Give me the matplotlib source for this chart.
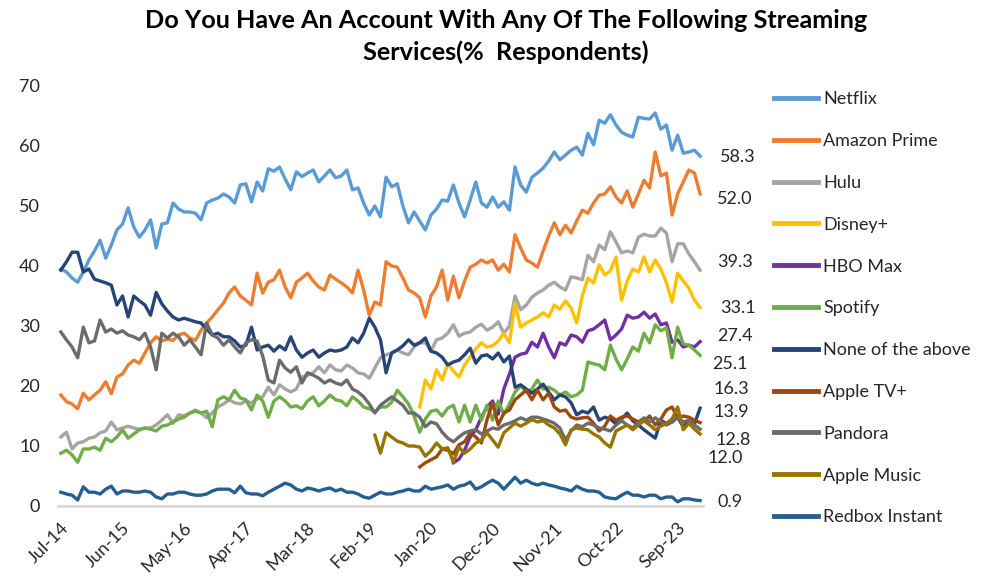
import numpy as np
import pandas as pd
import matplotlib
matplotlib.use("Agg")
import matplotlib.pyplot as plt
import matplotlib.transforms as mtransforms
from matplotlib.lines import Line2D

plt.rcParams['font.family'] = ['Lato', 'DejaVu Sans']

# monthly survey waves, Jul-2014 .. Jan-2024
months = pd.date_range("2014-07-01", "2024-01-01", freq="MS")
tick_step = 11

netflix = [39.5, 39, 38, 37.3, 39, 41, 42.5, 44.3, 41.3, 43.5,
           46, 47, 49.7, 46.5, 44.8, 46, 47.7, 43, 47, 47.2,
           50.5, 49.5, 49, 49, 48.8, 47.7, 50.5, 51, 51.3, 52,
           51.5, 50.5, 53.5, 53.7, 50.7, 54, 52.5, 56.2, 55.8, 56.5,
           54.5, 52.7, 55.7, 54.9, 55.5, 56, 54, 55, 56, 54.7,
           55, 56, 52.7, 53, 50.5, 48.5, 50, 48.2, 54.8, 53.2,
           53.7, 50, 47.2, 49, 47.5, 46, 48.5, 49.5, 51, 50.8,
           53.5, 50.5, 48.2, 51, 54, 50.5, 49.8, 51.5, 49.8, 50.7,
           49.3, 56.5, 53.5, 52.3, 54.8, 55.5, 56.3, 57.5, 59, 57.7,
           58.5, 59.3, 59.8, 58.5, 62.1, 60.2, 64.3, 63.8, 65.2, 63.5,
           62.3, 61.8, 61.5, 64.8, 64.6, 64.5, 65.5, 62.8, 63.5, 59.3,
           61.8, 58.8, 59, 59.3, 58.3]

amazon = [18.5, 17.4, 17, 16.2, 18.8, 17.7, 18.5, 19.3, 20.7, 18.7,
          21.5, 22, 23.5, 24.3, 23.8, 25.5, 27.2, 28.2, 27.5, 27.8,
          27.6, 28.5, 28.8, 28, 27.6, 29.3, 30.5, 31.5, 32.7, 33.8,
          35.5, 36.5, 35, 34.3, 33.5, 38.8, 35.5, 37.3, 37.7, 39.3,
          36.5, 34.7, 37.3, 38, 38.8, 37.5, 36.5, 36, 38.5, 37.8,
          37.2, 36.5, 35.5, 39.3, 36, 31.8, 34, 33.5, 40.7, 40,
          39.8, 38, 36, 35.5, 34.7, 31.5, 35, 36.5, 39.3, 34.3,
          38.3, 34.7, 37.5, 39.8, 40.3, 41, 40.5, 41, 39.3, 40.3,
          39, 45.2, 43, 41, 40.5, 39.8, 42.5, 45, 47.2, 45.2,
          46.8, 45.5, 47.5, 49.3, 48.8, 50.5, 51.8, 52, 53.2, 51.5,
          50.5, 52.5, 49.8, 52, 54.3, 53, 59, 55, 55.5, 48.5,
          52, 54, 56, 55.5, 52.0]

hulu = [11.5, 12.3, 9.5, 10.5, 10.7, 11.3, 11.5, 12.2, 12.5, 14,
        12.7, 13, 13.3, 13, 12.8, 13, 13, 13.5, 14.3, 15.2,
        13.8, 15.2, 15, 15.5, 16, 15.5, 14.7, 15.5, 16.5, 17,
        17.7, 17.2, 17, 17.5, 17.2, 17.8, 18.2, 19.8, 18.5, 20.2,
        19.5, 19, 19.5, 21.5, 21.8, 22.2, 23.2, 22.2, 23.5, 22.7,
        22.5, 23.5, 23, 22.2, 22, 21.3, 23, 24.7, 25.2, 25.5,
        26, 25.5, 25.2, 26.5, 27.2, 27.2, 25.8, 27.7, 28, 28.8,
        30.2, 28.3, 28.8, 29, 29.8, 30.3, 29.3, 29.8, 30.7, 28.8,
        30, 35, 32.7, 33.5, 34.8, 35.5, 36, 36.8, 37.3, 36.5,
        36, 38.2, 38, 37.7, 41.8, 40.7, 43.5, 42.7, 45.7, 44,
        42.2, 42.5, 42.2, 44.8, 45.3, 45, 45, 46.3, 45.5, 40.7,
        43.7, 43.7, 42, 40.7, 39.3]

disney = [16.5, 21, 19.5, 22.7, 21, 23.7, 22.5, 21.5, 23.5, 24.8,
          26.2, 27.2, 26.5, 26.7, 27.5, 28.8, 27.2, 33.8, 29.8, 30.5,
          31, 31.5, 32.2, 31.5, 33.5, 32.8, 34.2, 33, 30.5, 35,
          38, 37.2, 40.2, 38.5, 39.2, 41.5, 34.3, 37.5, 39.5, 39,
          41.5, 39, 41, 39.5, 37.2, 34, 38.8, 37.5, 36.3, 34.3,
          33.1]

hbo_max = [7.2, 7.8, 9.3, 11.5, 12.7, 14.8, 16.5, 17.5, 15.3, 19.5,
           22, 24.8, 25.3, 25.5, 27.3, 26.5, 28.8, 26.5, 24.7, 27.2,
           26.8, 28.5, 28.2, 27.3, 29.2, 29.5, 30.2, 31, 27.7, 28.5,
           29.5, 31.8, 31.3, 31.5, 32.3, 31.3, 32, 30.2, 30.5, 27.3,
           27.7, 26.5, 26.8, 26.5, 27.4]

spotify = [8.8, 9.3, 8.5, 7.3, 9.5, 9.5, 9.8, 9.3, 11.3, 10.7,
           11.5, 12.7, 11.3, 12, 12.7, 13, 12.8, 12.5, 13.3, 13.5,
           14, 14.5, 14.8, 15.5, 15.8, 15.5, 15.8, 13.2, 17.7, 18.2,
           17.7, 19.3, 18, 17.7, 16, 18.5, 17.5, 14.8, 17.5, 18.2,
           17.5, 16.5, 16.7, 16.2, 17.5, 18.2, 16.7, 17.5, 18.5, 17.7,
           17.5, 16.7, 18.2, 17.5, 16.5, 16.2, 15.7, 16.5, 16.5, 17.3,
           19.3, 18.2, 17, 15, 12.3, 14.5, 15.8, 16, 15, 16.3,
           16.8, 14, 16.8, 14, 16.8, 14.3, 16.8, 14.3, 17.5, 15.3,
           17, 19, 20, 19, 19.5, 21, 19.5, 19.8, 19.3, 18.5,
           19, 18.2, 18.5, 19.3, 24, 23.7, 23.5, 22.7, 26.8, 24.5,
           22.7, 24.5, 26.5, 25.8, 28.8, 27.2, 30.2, 29.2, 29.7, 24.7,
           29.8, 27, 26.8, 26, 25.1]

none_above = [39.3, 40.7, 42.3, 42.3, 39, 39.5, 37.8, 37.5, 37.2, 36.8,
              33.5, 35, 31.5, 35, 34.2, 33.5, 31.8, 35.6, 33.7, 32.5,
              31.5, 31, 31.3, 31, 30.7, 30.5, 29.5, 28.5, 28.8, 28.2,
              28.2, 27.5, 26.5, 26.8, 29.8, 26, 26.5, 26.8, 25.8, 26.7,
              26, 28.2, 26, 24.8, 25.5, 26, 24.8, 25.5, 26, 25.8,
              26, 26.5, 28, 27.2, 28.8, 31.3, 29.8, 27.7, 22.2, 25.5,
              26, 26.7, 27.7, 26.8, 27.2, 28, 25.8, 25.5, 24.8, 23.5,
              24, 24.3, 25.2, 26.3, 23.8, 25, 25.2, 24.5, 25.5, 24,
              25, 19.8, 20.2, 19.5, 18.8, 19.5, 20.3, 19, 17.7, 18.5,
              18.2, 17.2, 15.2, 15.8, 15.5, 16.5, 14.3, 14.8, 14.5, 13.7,
              14.5, 15.5, 14.2, 13.5, 12.7, 12, 11.3, 14.3, 13.7, 14,
              14.8, 13.2, 14.2, 13.7, 16.3]

apple_tv = [6.5, 7.2, 7.7, 8.2, 9.5, 9.3, 8.7, 10.2, 10.7, 12.2,
            11.5, 10.5, 14.4, 17.2, 13.5, 15.5, 16, 17.7, 18.5, 19.3,
            17.7, 19.3, 17.7, 18.8, 16.5, 15.8, 16, 14.8, 14.5, 14.7,
            14.8, 13.8, 12.5, 13.3, 15, 14.3, 14.8, 15, 14.5, 14,
            14.2, 15, 13.5, 14.5, 16, 16.5, 14.7, 15, 14.8, 14.3,
            13.9]

pandora = [29, 27.7, 26.5, 24.7, 29.8, 27.2, 27.5, 31, 29, 29.5,
           28.8, 29.2, 28.5, 28.2, 27.7, 28.8, 26.5, 22.7, 28.8, 28,
           28.8, 28.2, 26.8, 27.7, 26.5, 25.2, 30.5, 28.5, 28, 26.8,
           27.7, 26.5, 25.5, 27.2, 27.7, 27.5, 25, 21, 20.5, 24.3,
           23, 22.3, 23.2, 20.5, 22.2, 21.8, 21.3, 20.5, 21, 20.5,
           20.2, 21, 19.5, 19, 18.2, 17, 15.5, 16.8, 17.5, 18.2,
           17.5, 16.8, 15.5, 15.5, 14.8, 13.2, 14, 13.7, 12.3, 11.3,
           10.7, 11.5, 12.2, 12.5, 12.7, 12, 12.5, 13, 12.8, 13.5,
           13.8, 14.2, 14.7, 14.3, 14.8, 14.8, 14.5, 14.2, 13.8, 13,
           11, 12.5, 13.5, 13.2, 13.8, 13.5, 13, 12.8, 12.5, 13.5,
           14.2, 13.5, 13, 14, 14.7, 14, 14.7, 14, 13.5, 14,
           14.8, 14, 14.3, 13.5, 12.8]

apple_music = [11.8, 8.8, 12.2, 11.5, 10.8, 10.5, 10, 10, 9.8, 8.3,
               9.2, 10.5, 9.5, 9.7, 7.3, 9.8, 8.8, 9.5, 10.5, 11,
               12.2, 11, 9.8, 12.2, 13, 13.8, 13.3, 13.8, 14.4, 14,
               14.2, 13.5, 13, 12, 10.2, 12.7, 13, 12.8, 12.7, 12,
               11.5, 10.5, 9.8, 12.5, 13, 13.5, 12.7, 13.5, 14.2, 13.5,
               12.7, 13.3, 13.8, 14.5, 16.5, 12.7, 13.8, 12.8, 12.0]

redbox = [2.3, 2, 1.8, 1, 3.2, 2.3, 2.3, 2, 2.8, 3.3,
          2, 2.5, 2.5, 2.3, 2.3, 2.5, 2.3, 1.5, 1.2, 2,
          2, 2.3, 2.3, 2, 1.8, 1.8, 2, 2.5, 2.8, 2.8,
          2.8, 2.2, 3.3, 2.2, 2, 2, 1.7, 2.3, 2.8, 3.3,
          3.8, 3.5, 2.8, 2.5, 3, 2.8, 2.5, 2.8, 3, 2.5,
          2.8, 2.3, 2.3, 2, 1.5, 1.3, 1.8, 2.3, 2, 2,
          2.3, 2.5, 2.8, 2.5, 2.5, 3.3, 2.8, 3, 3.2, 3.5,
          2.8, 3.3, 3.5, 4, 2.8, 3.2, 3.8, 4.3, 3.8, 2.8,
          3.8, 4.8, 3.8, 4.3, 3.8, 3.5, 3.8, 3.5, 3.3, 3,
          2.8, 2.5, 3.3, 2.8, 2.5, 2.5, 2.3, 1.5, 1.3, 1.2,
          1.8, 2.3, 1.8, 1.8, 1.5, 1.8, 1.8, 1.2, 1.5, 1.5,
          0.7, 1.2, 1.2, 1, 0.9]

# (name, values, first month, colour, end-label offset in px)
series = [
    ("Netflix", netflix, "2014-07", "#5b9bd5", (38, -1)),
    ("Amazon Prime", amazon, "2014-07", "#ed7d31", (35, -5)),
    ("Hulu", hulu, "2014-07", "#a5a5a5", (35, 8)),
    ("Disney+", disney, "2019-11", "#ffc000", (38, -1)),
    ("HBO Max", hbo_max, "2020-05", "#7030a0", (35, 6)),
    ("Spotify", spotify, "2014-07", "#70ad47", (30, -9)),
    ("None of the above", none_above, "2014-07", "#264478", (31, 19)),
    ("Apple TV+", apple_tv, "2019-11", "#9e480e", (31, 11)),
    ("Pandora", pandora, "2014-07", "#6b6b6b", (33, -11)),
    ("Apple Music", apple_music, "2019-03", "#997300", (25, -24)),
    ("Redbox Instant", redbox, "2014-07", "#255e91", (30, -1)),
]

text_color = "#262626"

fig = plt.figure(figsize=(10.06, 5.87), dpi=100)
ax = fig.add_axes([0.0577, 0.138, 0.641, 0.7155])

handles = []
for name, vals, start, color, offset in series:
    i0 = months.get_loc(pd.Timestamp(start + "-01"))
    x = np.arange(i0, i0 + len(vals))
    ax.plot(x, vals, color=color, lw=2.4, solid_joinstyle="round")
    handles.append(Line2D([], [], color=color, lw=3.5))
    ax.annotate(f"{vals[-1]:.1f}", xy=(x[-1], vals[-1]), xytext=offset,
                textcoords="offset pixels", ha="center", va="center",
                fontsize=13, color=text_color)

ax.set_ylim(0, 70)
ax.set_xlim(-0.5, len(months) - 0.5)
ax.set_yticks(range(0, 71, 10))
ticks = np.arange(0, len(months), tick_step)
ax.set_xticks(ticks)
ax.set_xticklabels([months[i].strftime("%b-%y") for i in ticks],
                   rotation=45, ha="right", va="center", rotation_mode="anchor")
ax.tick_params(axis="both", length=0, labelsize=13, colors=text_color)
ax.tick_params(axis="y", pad=13)
ax.tick_params(axis="x", pad=14)
shift = mtransforms.ScaledTranslation(5 / 100, 0, fig.dpi_scale_trans)
for lab in ax.get_xticklabels():
    lab.set_transform(lab.get_transform() + shift)

for side in ["top", "right", "left"]:
    ax.spines[side].set_visible(False)
ax.spines["bottom"].set_color("#d9d9d9")
ax.spines["bottom"].set_linewidth(2)

fig.text(0.503, 0.984, "Do You Have An Account With Any Of The Following Streaming\nServices(%  Respondents)",
         ha="center", va="top", fontsize=18.2, fontweight="bold", color="black", linespacing=1.42)

fig.legend(handles, [s[0] for s in series], loc="upper left",
           bbox_to_anchor=(758 / 1006, 1 - 75 / 587), frameon=False,
           fontsize=13, handlelength=2.4, handletextpad=0.3,
           labelspacing=1.43, labelcolor=text_color)

fig.savefig("out.png", dpi=100)
